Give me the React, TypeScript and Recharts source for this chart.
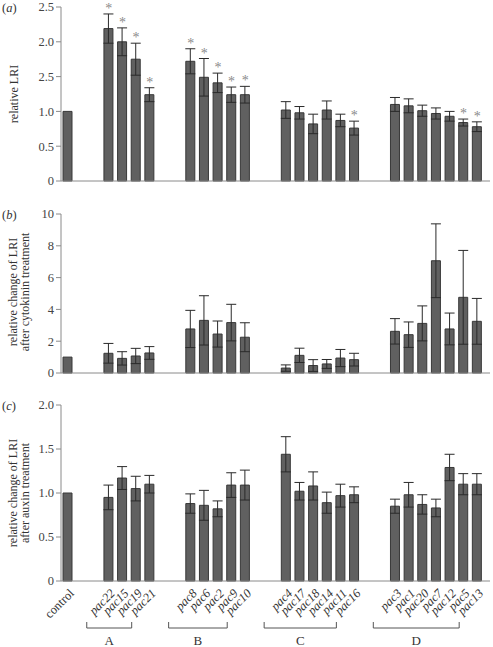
import React from "react";
import { ComposedChart, Bar, ErrorBar, Line, XAxis, YAxis } from "recharts";

// sample order as plotted, groups separated by two empty slots
const CONTROL = "control";
const GROUPS: Array<{ label: string; members: string[] }> = [
  { label: "A", members: ["pac22", "pac15", "pac19", "pac21"] },
  { label: "B", members: ["pac8", "pac6", "pac2", "pac9", "pac10"] },
  { label: "C", members: ["pac4", "pac17", "pac18", "pac14", "pac11", "pac16"] },
  { label: "D", members: ["pac3", "pac1", "pac20", "pac7", "pac12", "pac5", "pac13"] },
];

// (a) relative LRI
const LRI = [1.0, 2.19, 2.0, 1.75, 1.24, 1.72, 1.49, 1.41, 1.24, 1.24, 1.02, 0.98, 0.82, 1.02, 0.87, 0.76, 1.1, 1.08, 1.01, 0.97, 0.93, 0.84, 0.78];
const LRI_ERR = [null, 0.21, 0.2, 0.23, 0.1, 0.18, 0.27, 0.14, 0.11, 0.12, 0.12, 0.09, 0.14, 0.13, 0.09, 0.1, 0.1, 0.1, 0.08, 0.08, 0.07, 0.05, 0.07];
const LRI_SIG = [0, 1, 1, 1, 1, 1, 1, 1, 1, 1, 0, 0, 0, 0, 0, 1, 0, 0, 0, 0, 0, 1, 1];
const LRI_TICKS = [0, 0.5, 1, 1.5, 2, 2.5];
const LRI_TICK_LABELS = ["0", "0.5", "1.0", "2.5", "2.0", "2.5"];

// (b) after cytokinin
const CYTO = [1.0, 1.24, 0.92, 1.07, 1.26, 2.77, 3.31, 2.45, 3.17, 2.25, 0.31, 1.11, 0.47, 0.57, 0.94, 0.84, 2.62, 2.41, 3.12, 7.06, 2.77, 4.76, 3.25];
const CYTO_ERR = [null, 0.62, 0.42, 0.48, 0.4, 1.17, 1.55, 0.82, 1.15, 0.91, 0.2, 0.45, 0.37, 0.28, 0.54, 0.4, 0.8, 0.8, 1.1, 2.32, 1.0, 2.95, 1.44];
const CYTO_TICKS = [0, 2, 4, 6, 8, 10];

// (c) after auxin
const AUXIN = [1.0, 0.95, 1.17, 1.05, 1.1, 0.88, 0.86, 0.82, 1.09, 1.09, 1.44, 1.02, 1.08, 0.89, 0.97, 0.98, 0.85, 0.98, 0.87, 0.83, 1.29, 1.1, 1.1];
const AUXIN_ERR = [null, 0.14, 0.13, 0.14, 0.1, 0.11, 0.17, 0.09, 0.14, 0.17, 0.2, 0.1, 0.16, 0.12, 0.13, 0.09, 0.08, 0.14, 0.11, 0.1, 0.15, 0.12, 0.12];
const AUXIN_TICKS = [0, 0.5, 1, 1.5, 2];

const W = 493;
const PLOT_LEFT = 61;
const MARGIN_RIGHT = 3;
const PAD_RIGHT = 6;
const FONT = "'Liberation Serif', 'DejaVu Serif', serif";
const BAR_FILL = "#606060";
const BAR_EDGE = "#383838";
const AXIS = "#8a8a8a";

// slot layout: control, gap, gap, A..., gap, gap, B...
const SLOTS: string[] = [CONTROL];
GROUPS.forEach((g) => {
  SLOTS.push("", "");
  SLOTS.push(...g.members);
});
const SAMPLES = [CONTROL, ...GROUPS.flatMap((g) => g.members)];

function rows(values: number[], errs: (number | null)[], sig?: number[]) {
  return SLOTS.map((name) => {
    if (!name) return { name, value: null, err: null, star: null };
    const i = SAMPLES.indexOf(name);
    const e = errs[i];
    return {
      name,
      value: values[i],
      err: e,
      star: sig && sig[i] ? values[i] + (e || 0) : null,
    };
  });
}

const StarDot = (props: any) => {
  const { cx, cy, index } = props;
  if (cy == null || isNaN(cy)) return <g key={index} />;
  return (
    <text key={index} x={cx} y={cy - 1} textAnchor="middle" fontSize={14} fill="#8a8a8a" fontFamily={FONT}>
      *
    </text>
  );
};

const NameTick = (props: any) => {
  const { x, y, payload } = props;
  const name = payload.value;
  if (!name) return <g />;
  return (
    <text
      transform={`translate(${x + 7},${y + 11}) rotate(-45)`}
      textAnchor="end"
      fontSize={12.5}
      fontFamily={FONT}
      fontStyle={name === CONTROL ? "normal" : "italic"}
      fill="#333"
    >
      {name}
    </text>
  );
};

interface PanelProps {
  data: any[];
  top: number;
  height: number;
  marginTop: number;
  marginBottom: number;
  domain: [number, number];
  ticks: number[];
  fmt: (v: number) => string;
  names?: boolean;
  stars?: boolean;
}

function Panel({ data, top, height, marginTop, marginBottom, domain, ticks, fmt, names, stars }: PanelProps) {
  return (
    <div style={{ position: "absolute", left: 0, top }}>
      <ComposedChart
        width={W}
        height={height}
        data={data}
        margin={{ top: marginTop, right: MARGIN_RIGHT, bottom: marginBottom, left: 0 }}
      >
        <XAxis
          dataKey="name"
          interval={0}
          height={names ? 50 : 2}
          padding={{ left: 0, right: PAD_RIGHT }}
          stroke={AXIS}
          tickLine={false}
          tickSize={0}
          tick={names ? <NameTick /> : false}
        />
        <YAxis
          width={PLOT_LEFT}
          domain={domain}
          ticks={ticks}
          interval={0}
          stroke={AXIS}
          tickSize={5}
          tickMargin={2}
          tickFormatter={fmt}
          tick={{ fontSize: 12.5, fill: "#444", fontFamily: FONT }}
        />
        <Bar dataKey="value" barSize={9} fill={BAR_FILL} stroke={BAR_EDGE} strokeWidth={1} isAnimationActive={false}>
          <ErrorBar dataKey="err" width={5} stroke="#2a2a2a" strokeWidth={1} direction="y" />
        </Bar>
        {stars && (
          <Line
            dataKey="star"
            stroke="none"
            dot={<StarDot />}
            activeDot={false}
            connectNulls={false}
            isAnimationActive={false}
          />
        )}
      </ComposedChart>
    </div>
  );
}

const band = (W - MARGIN_RIGHT - PAD_RIGHT - PLOT_LEFT) / SLOTS.length;
const slotX = (name: string) => PLOT_LEFT + band * (SLOTS.indexOf(name) + 0.5);

export default function App() {
  const lriRows = rows(LRI, LRI_ERR, LRI_SIG);
  const cytoRows = rows(CYTO, CYTO_ERR);
  const auxRows = rows(AUXIN, AUXIN_ERR);

  return (
    <div style={{ position: "absolute", left: 0, top: 0, width: W, height: 647, background: "#fff" }}>
      <Panel
        data={lriRows}
        top={0}
        height={190}
        marginTop={7}
        marginBottom={7}
        domain={[0, 2.5]}
        ticks={LRI_TICKS}
        fmt={(v) => LRI_TICK_LABELS[LRI_TICKS.indexOf(v)] ?? String(v)}
        stars
      />
      <Panel
        data={cytoRows}
        top={200}
        height={190}
        marginTop={14}
        marginBottom={15}
        domain={[0, 10]}
        ticks={CYTO_TICKS}
        fmt={(v) => String(v)}
      />
      <Panel
        data={auxRows}
        top={395}
        height={252}
        marginTop={10}
        marginBottom={16}
        domain={[0, 2]}
        ticks={AUXIN_TICKS}
        fmt={(v) => (v === 0 ? "0" : v.toFixed(1))}
        names
      />
      <svg width={W} height={647} style={{ position: "absolute", left: 0, top: 0, pointerEvents: "none" }}>
        <g fontFamily={FONT} fill="#333" fontSize={12.5}>
          <text x={2} y={12}>
            (<tspan fontStyle="italic">a</tspan>)
          </text>
          <text x={2} y={219}>
            (<tspan fontStyle="italic">b</tspan>)
          </text>
          <text x={2} y={410}>
            (<tspan fontStyle="italic">c</tspan>)
          </text>
        </g>
        <g fontFamily={FONT} fill="#333" fontSize={12} textAnchor="middle" dominantBaseline="central">
          <text transform="translate(14,94) rotate(-90)">relative LRI</text>
          <text transform="translate(13,292) rotate(-90)">relative change of LRI</text>
          <text transform="translate(24.5,292) rotate(-90)">after cytokinin treatment</text>
          <text transform="translate(13,493) rotate(-90)">relative change of LRI</text>
          <text transform="translate(24.5,493) rotate(-90)">after auxin treatment</text>
        </g>
        {GROUPS.map((g) => {
          const x1 = slotX(g.members[0]) - 22;
          const x2 = slotX(g.members[g.members.length - 1]) - 18;
          return (
            <g key={g.label} stroke="#555" strokeWidth={1} fill="none">
              <polyline points={`${x1},622 ${x1},628 ${x2},628 ${x2},622`} />
              <text
                x={(x1 + x2) / 2}
                y={645}
                stroke="none"
                fill="#333"
                fontSize={13}
                fontFamily={FONT}
                textAnchor="middle"
              >
                {g.label}
              </text>
            </g>
          );
        })}
      </svg>
    </div>
  );
}
